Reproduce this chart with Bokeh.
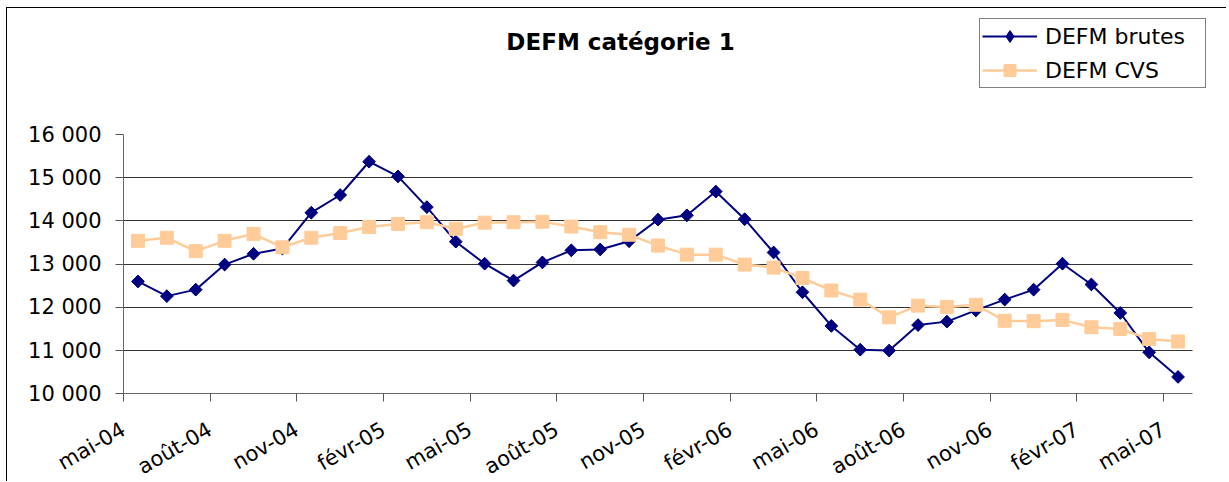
import math
from bokeh.plotting import figure
from bokeh.models import FixedTicker, Label, Legend, LegendItem, Range1d, Grid
from bokeh.embed import file_html
from bokeh.resources import INLINE

# ---- data ----
mois = ["mai-04", "juin-04", "juil-04", "août-04", "sept-04", "oct-04", "nov-04", "déc-04",
        "janv-05", "févr-05", "mars-05", "avr-05", "mai-05", "juin-05", "juil-05", "août-05",
        "sept-05", "oct-05", "nov-05", "déc-05", "janv-06", "févr-06", "mars-06", "avr-06",
        "mai-06", "juin-06", "juil-06", "août-06", "sept-06", "oct-06", "nov-06", "déc-06",
        "janv-07", "févr-07", "mars-07", "avr-07", "mai-07"]

defm_brutes = [12600, 12260, 12410, 12990, 13240, 13360, 14190, 14600, 15370, 15030,
               14320, 13520, 13010, 12620, 13040, 13320, 13340, 13530, 14030, 14130,
               14680, 14040, 13270, 12350, 11570, 11020, 11000, 11590, 11670, 11930,
               12180, 12410, 13010, 12530, 11870, 10960, 10390]

defm_cvs = [13540, 13610, 13300, 13540, 13700, 13390, 13610, 13720, 13860, 13930,
            13970, 13820, 13960, 13970, 13980, 13870, 13740, 13680, 13430, 13220,
            13220, 12990, 12920, 12680, 12390, 12180, 11770, 12040, 12010, 12060,
            11690, 11680, 11710, 11540, 11500, 11270, 11210]

y_ticks = [10000, 11000, 12000, 13000, 14000, 15000, 16000]
y_tick_labels = ["10 000", "11 000", "12 000", "13 000", "14 000", "15 000", "16 000"]

titre = "DEFM catégorie 1"
serie1 = "DEFM brutes"
serie2 = "DEFM CVS"

FONT = "DejaVu Sans"
NAVY = "#000080"
PEACH = "#FFCC99"
AXIS_GREY = "#666666"
TICK_GREY = "#555555"
GRID_GREY = "#333333"

n = len(mois)
x = list(range(n))
label_idx = list(range(0, n, 3))
tick_pos = [i - 0.5 for i in label_idx]          # Excel-style: ticks between categories
y_lo, y_hi = y_ticks[0], y_ticks[-1]
x_lo, x_hi = -0.5, n - 0.5

# ---- layout (page pixels) ----
W, H = 1220, 474
CX, CY = 7, 8                          # canvas origin on the page (css margin + border)
PA_LEFT, PA_RIGHT = 123.0, 1192.0      # plot area
PA_TOP, PA_BOTTOM = 134.0, 393.3
TICK = 8
ppc = (PA_RIGHT - PA_LEFT) / n                     # pixels per category
ppu = (PA_BOTTOM - PA_TOP) / (y_hi - y_lo)         # pixels per unit
x_start = x_lo - (PA_LEFT - CX) / ppc
x_end = x_lo + (CX + W - PA_LEFT) / ppc
y_start = y_lo - (CY + H - PA_BOTTOM) / ppu
y_end = y_lo + (PA_BOTTOM - CY) / ppu

p = figure(width=W, height=H, output_backend="svg", toolbar_location=None,
           x_range=Range1d(x_start, x_end), y_range=Range1d(y_start, y_end),
           min_border_left=0, min_border_right=0, min_border_top=0, min_border_bottom=0,
           background_fill_color="white", border_fill_color="white")
p.outline_line_color = None
p.styles = {"margin-left": "6px", "margin-top": "7px",
            "border-top": "1px solid #000000", "border-left": "1px solid #000000"}

# x axis: category labels, placed at the 10 000 line
xa = p.xaxis[0]
xa.fixed_location = y_lo
xa.bounds = (x_lo, x_hi)
xa.ticker = FixedTicker(ticks=tick_pos, minor_ticks=[])
xa.major_label_overrides = {t: mois[i] for t, i in zip(tick_pos, label_idx)}
xa.major_tick_out = 0
xa.major_tick_in = 0
xa.minor_tick_out = 0
xa.minor_tick_in = 0
xa.axis_line_color = None
xa.major_label_orientation = math.pi / 6
xa.major_label_text_font = FONT
xa.major_label_text_font_size = "21px"
xa.major_label_text_color = "black"
xa.major_label_standoff = 34

# y axis: value labels, placed at the left edge of the plot area
ya = p.yaxis[0]
ya.fixed_location = x_lo
ya.bounds = (y_lo, y_hi)
ya.ticker = FixedTicker(ticks=y_ticks, minor_ticks=[])
ya.major_label_overrides = {t: l for t, l in zip(y_ticks, y_tick_labels)}
ya.major_tick_out = 0
ya.major_tick_in = 0
ya.minor_tick_out = 0
ya.minor_tick_in = 0
ya.axis_line_color = None
ya.major_label_text_font = FONT
ya.major_label_text_font_size = "21px"
ya.major_label_text_color = "black"
ya.major_label_standoff = 22

# horizontal grid lines 11 000 .. 15 000
p.xgrid.visible = False
p.ygrid[0].ticker = FixedTicker(ticks=y_ticks[1:-1])
p.ygrid[0].cross_bounds = (x_lo, x_hi)
p.ygrid[0].grid_line_color = GRID_GREY
p.ygrid[0].grid_line_width = 1

# axis rules and tick marks
p.add_layout(Grid(dimension=1, ticker=FixedTicker(ticks=[y_lo]), cross_bounds=(x_lo, x_hi),
                  grid_line_color=AXIS_GREY, grid_line_width=1))
p.add_layout(Grid(dimension=0, ticker=FixedTicker(ticks=[x_lo]), cross_bounds=(y_lo, y_hi),
                  grid_line_color=AXIS_GREY, grid_line_width=1))
p.add_layout(Grid(dimension=0, ticker=FixedTicker(ticks=tick_pos),
                  cross_bounds=(y_lo - TICK / ppu, y_lo),
                  grid_line_color=TICK_GREY, grid_line_width=1))
p.add_layout(Grid(dimension=1, ticker=FixedTicker(ticks=y_ticks),
                  cross_bounds=(x_lo - TICK / ppc, x_lo),
                  grid_line_color=TICK_GREY, grid_line_width=1))

r1 = p.line(x, defm_brutes, line_color=NAVY, line_width=2)
s1_leg = p.scatter(x, defm_brutes, marker="diamond", size=12, fill_color=NAVY, line_color=NAVY)
s1 = p.scatter(x, defm_brutes, marker="square", angle=math.pi / 4, size=9,
               fill_color=NAVY, line_color=NAVY)
r2 = p.line(x, defm_cvs, line_color=PEACH, line_width=2.5)
s2 = p.scatter(x, defm_cvs, marker="square", size=13, fill_color=PEACH, line_color=PEACH)

# frame-relative screen positions (origin at the frame's bottom-left = canvas bottom-left)
page_bottom = CY + H
legend = Legend(items=[LegendItem(label=serie1, renderers=[r1, s1_leg]),
                       LegendItem(label=serie2, renderers=[r2, s2])],
                location=(979 - CX, page_bottom - 88), margin=0, padding=2, spacing=4,
                glyph_width=55, glyph_height=30, label_height=30, label_width=158,
                label_standoff=8, label_text_font=FONT, label_text_font_size="22px",
                label_text_color="black", border_line_color="black", border_line_width=1,
                background_fill_color="white", background_fill_alpha=1.0)
p.add_layout(legend)

p.add_layout(Label(x=620 - CX, y=page_bottom - 41.5, x_units="screen", y_units="screen",
                   text=titre, text_align="center", text_baseline="middle", text_font=FONT,
                   text_font_style="bold", text_font_size="23px", text_color="black"))

open("out.html", "w").write(file_html(p, INLINE))
